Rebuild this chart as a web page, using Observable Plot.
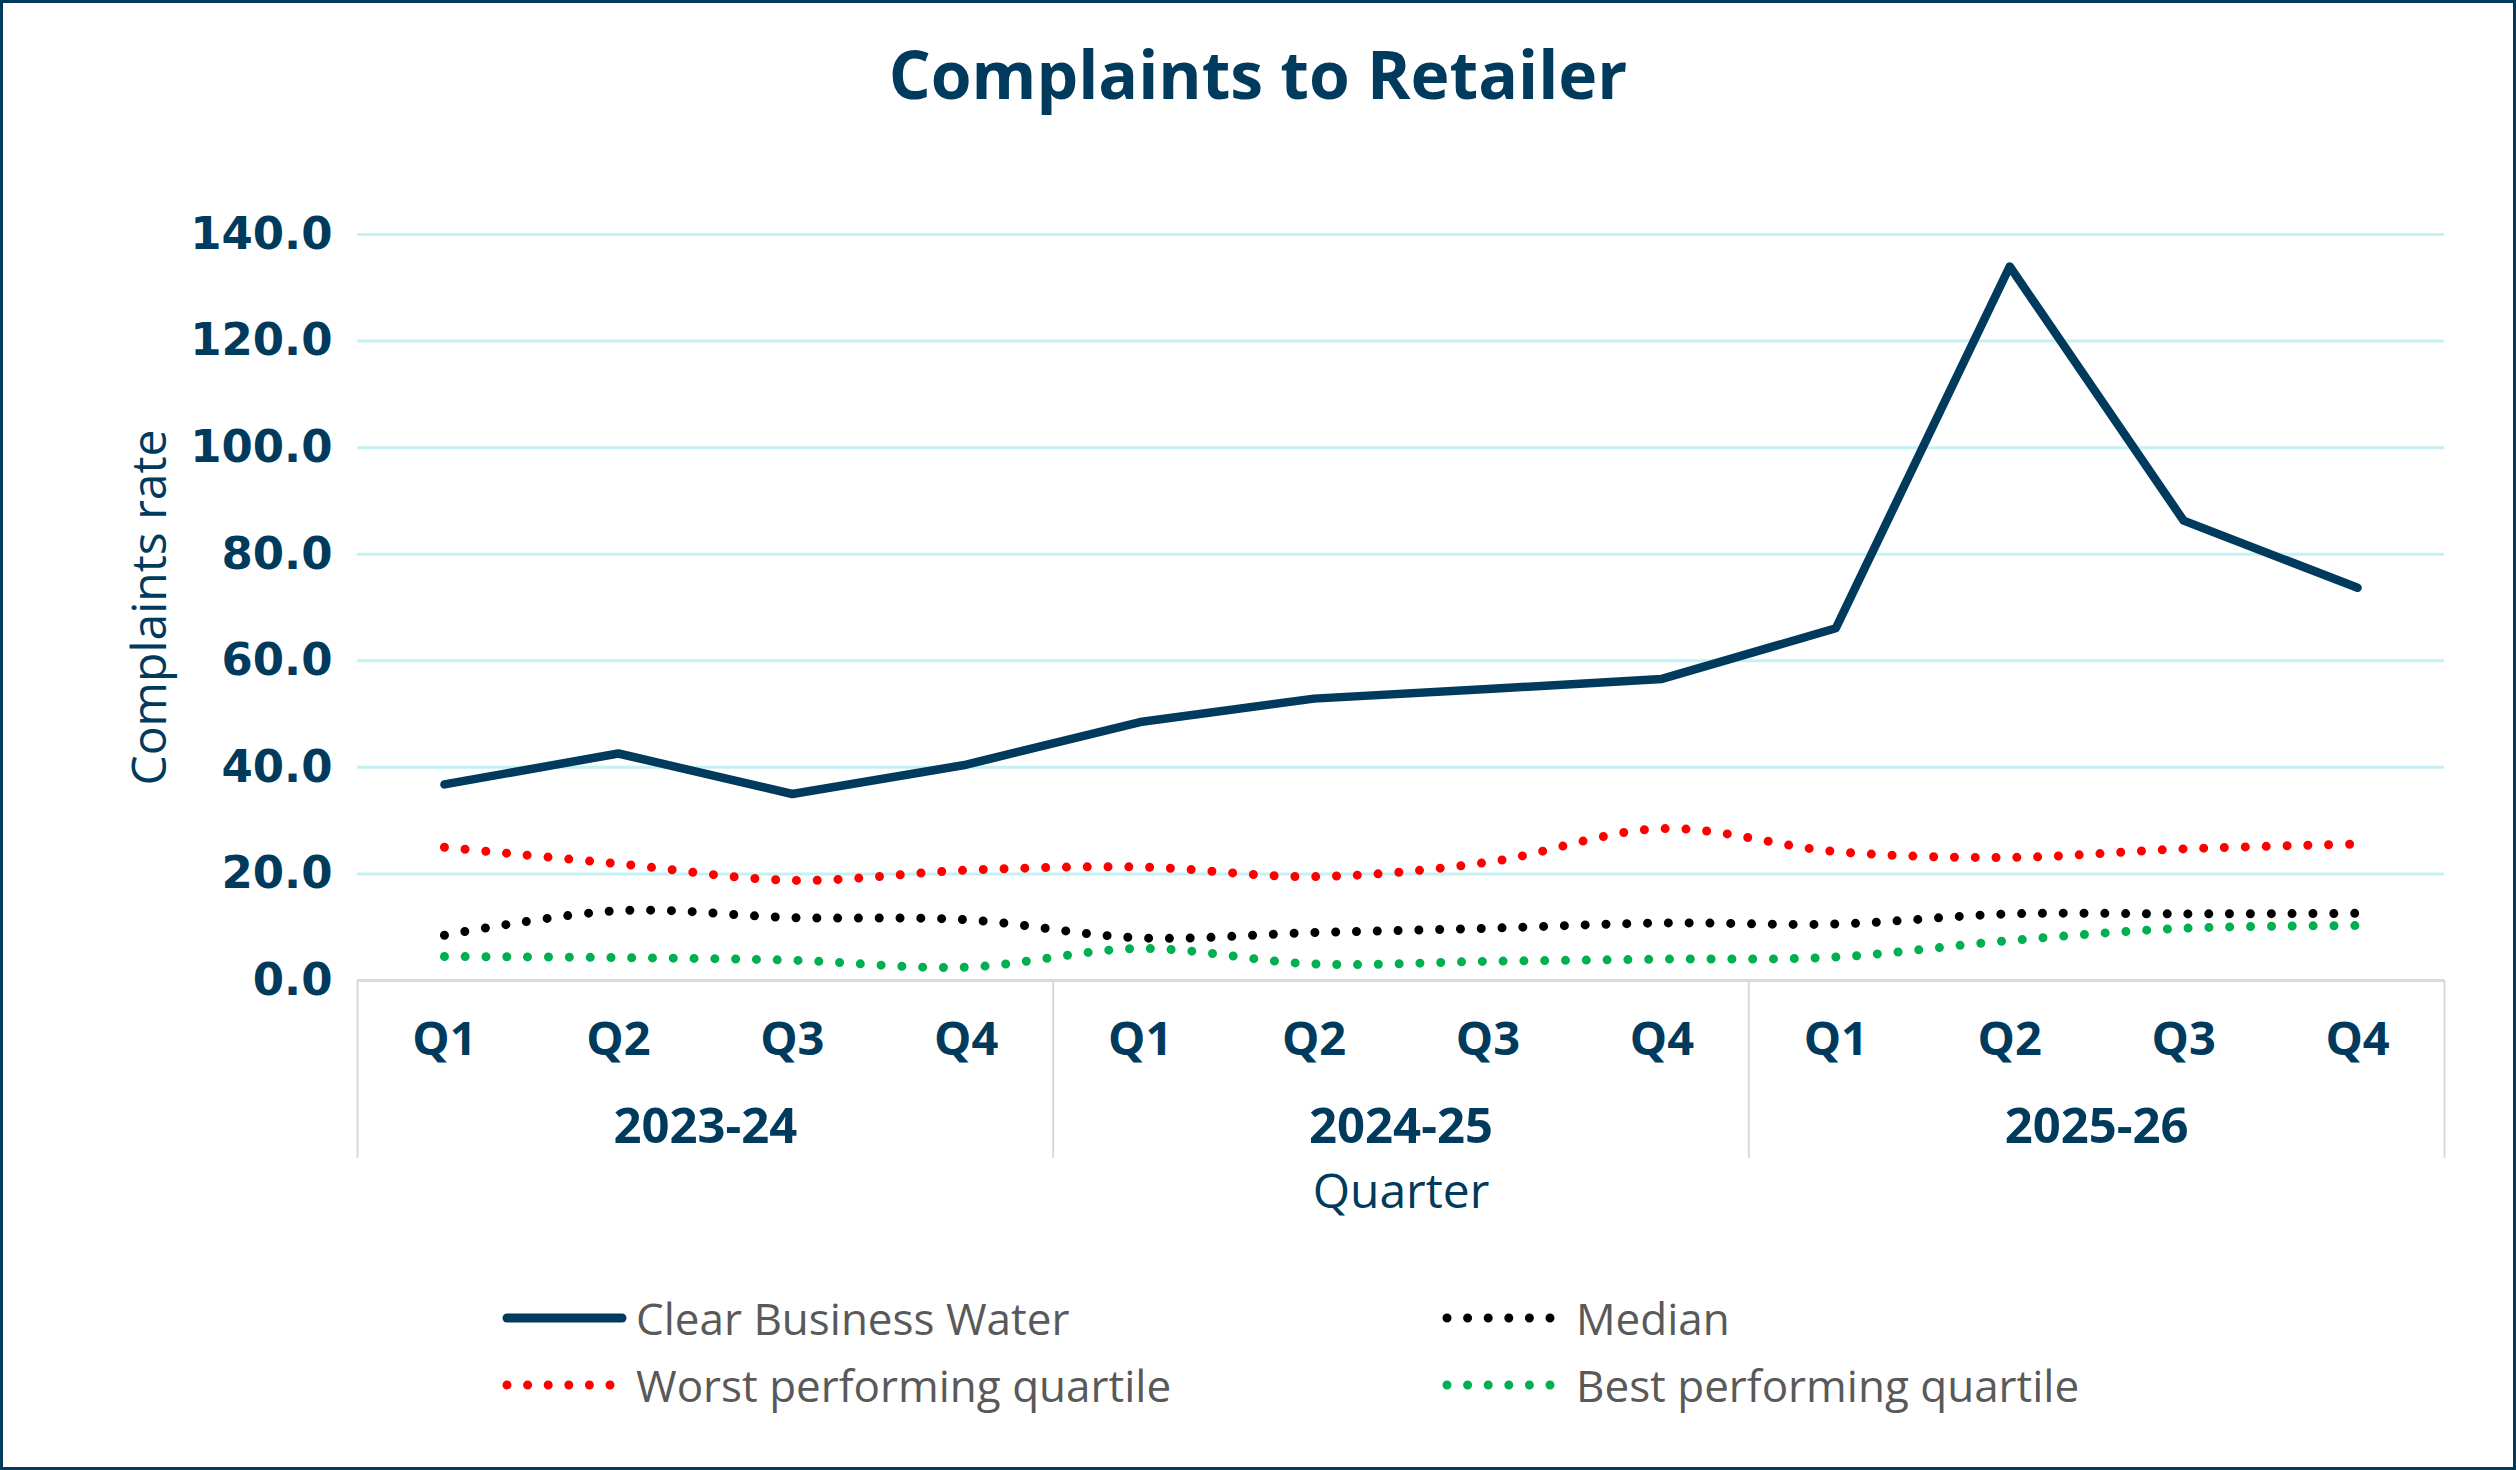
<!DOCTYPE html>
<html>
<head>
<meta charset="utf-8">
<script src="https://cdn.jsdelivr.net/npm/d3@7"></script>
<script src="https://cdn.jsdelivr.net/npm/@observablehq/plot@0.6"></script>
<style>
  html, body { margin: 0; padding: 0; background: #ffffff; }
  #page { position: relative; width: 2516px; height: 1470px; overflow: hidden; font-family: "Open Sans", sans-serif; background: #fff; }
  #border { position: absolute; left: 0; top: 0; width: 2516px; height: 1470px; box-sizing: border-box; border: 3px solid #003A5D; pointer-events: none; }
  #title { position: absolute; left: 0; top: 40px; width: 2516px; text-align: center; font-size: 66px; line-height: 66px; font-weight: 700; color: #003A5D; }
  #chart { position: absolute; left: 0; top: 140px; }
  .leg { position: absolute; height: 60px; display: flex; align-items: center; font-size: 44px; color: #595959; white-space: nowrap; }
  .leg svg { margin-right: 8px; }
</style>
</head>
<body>
<div id="page">
  <div id="title">Complaints to Retailer</div>
  <div id="chart"></div>
  <div id="legend"></div>
  <div id="border"></div>
</div>
<script>
// ---- data ----
const years = ["2023-24", "2024-25", "2025-26"];
const quarters = ["Q1", "Q2", "Q3", "Q4"];
const clearBusinessWater = [36.8, 42.6, 35.0, 40.5, 48.5, 52.9, 54.7, 56.6, 66.1, 134.0, 86.3, 73.7];
const medianValues       = [8.5, 13.1, 11.8, 11.4, 8.0, 9.0, 9.8, 10.8, 10.6, 12.5, 12.5, 12.6];
const worstQuartile      = [25.0, 21.9, 18.8, 20.7, 21.3, 19.5, 22.2, 28.5, 24.2, 23.1, 24.7, 25.6];
const bestQuartile       = [4.5, 4.3, 3.8, 2.5, 6.0, 3.1, 3.6, 4.0, 4.4, 7.5, 9.8, 10.3];
const yTicks = [0, 20, 40, 60, 80, 100, 120, 140];
const seriesNames = ["Clear Business Water", "Median", "Worst performing quartile", "Best performing quartile"];
const seriesColors = ["#003A5D", "#000000", "#FF0000", "#00B050"];
const seriesDotted = [false, true, true, true];

// ---- chart ----
const nQ = quarters.length;
const n = years.length * nQ;
const idx = d3.range(n);
const groupEdges = d3.range(years.length + 1).map(i => i * nQ - 0.5);

const dotted = (vals, color) => Plot.lineY(vals, {
  x: (d, i) => i, curve: "catmull-rom", stroke: color, strokeWidth: 9,
  strokeDasharray: "0 20.8", strokeLinecap: "round"
});

const plot = Plot.plot({
  width: 2516,
  height: 1100,
  marginLeft: 357,
  marginRight: 72,
  marginTop: 94,
  marginBottom: 260,
  x: { type: "linear", domain: [-0.5, n - 0.5] },
  y: { domain: [yTicks[0], yTicks[yTicks.length - 1]] },
  style: { fontFamily: "Open Sans, sans-serif", color: "#003A5D", background: "transparent", overflow: "visible" },
  marks: [
    Plot.ruleY(yTicks.filter(d => d > 0), { stroke: "#C4F1F4", strokeWidth: 3 }),
    Plot.ruleY([0], { stroke: "#D9D9D9", strokeWidth: 3 }),
    Plot.ruleX(groupEdges, { y1: 0, y2: 0, insetBottom: -178, stroke: "#D9D9D9", strokeWidth: 2 }),
    Plot.axisY(yTicks, { tickFormat: d => d.toFixed(1), tickSize: 0, tickPadding: 25, fontSize: 45, fontWeight: "bold", fontFamily: "DejaVu Sans, sans-serif", label: null }),
    Plot.axisX(idx, { tickFormat: i => quarters[i % nQ], tickSize: 0, tickPadding: 41, fontSize: 47, fontWeight: "bold", label: null }),
    Plot.text(years, { x: (d, i) => i * nQ + (nQ - 1) / 2, frameAnchor: "bottom", lineAnchor: "middle", dy: 147, fontSize: 49, fontWeight: "bold", fill: "#003A5D" }),
    Plot.text(["Quarter"], { frameAnchor: "bottom", lineAnchor: "middle", dy: 212, fontSize: 48, fill: "#003A5D" }),
    Plot.text(["Complaints rate"], { frameAnchor: "left", textAnchor: "middle", lineAnchor: "middle", dx: -207, rotate: -90, fontSize: 48, fill: "#003A5D" }),
    dotted(worstQuartile, seriesColors[2]),
    dotted(medianValues, seriesColors[1]),
    dotted(bestQuartile, seriesColors[3]),
    Plot.lineY(clearBusinessWater, { x: (d, i) => i, stroke: seriesColors[0], strokeWidth: 8.5, strokeLinecap: "round", strokeLinejoin: "round" })
  ]
});
document.getElementById("chart").appendChild(plot);

// ---- legend ----
const legendPos = [
  { left: 502, top: 1288 },
  { left: 1442, top: 1288 },
  { left: 502, top: 1355 },
  { left: 1442, top: 1355 }
];
const legend = document.getElementById("legend");
seriesNames.forEach((name, k) => {
  const item = document.createElement("div");
  item.className = "leg";
  item.style.left = legendPos[k].left + "px";
  item.style.top = legendPos[k].top + "px";
  const ns = "http://www.w3.org/2000/svg";
  const s = document.createElementNS(ns, "svg");
  s.setAttribute("width", "126");
  s.setAttribute("height", "20");
  const l = document.createElementNS(ns, "line");
  l.setAttribute("y1", "10"); l.setAttribute("y2", "10");
  l.setAttribute("stroke", seriesColors[k]);
  l.setAttribute("stroke-linecap", "round");
  l.setAttribute("x1", "5");
  if (seriesDotted[k]) {
    l.setAttribute("x2", "112");
    l.setAttribute("stroke-width", "9");
    l.setAttribute("stroke-dasharray", "0 20.6");
  } else {
    l.setAttribute("x2", "120");
    l.setAttribute("stroke-width", "9");
  }
  s.appendChild(l);
  item.appendChild(s);
  const t = document.createElement("span");
  t.textContent = name;
  item.appendChild(t);
  legend.appendChild(item);
});
</script>
</body>
</html>
